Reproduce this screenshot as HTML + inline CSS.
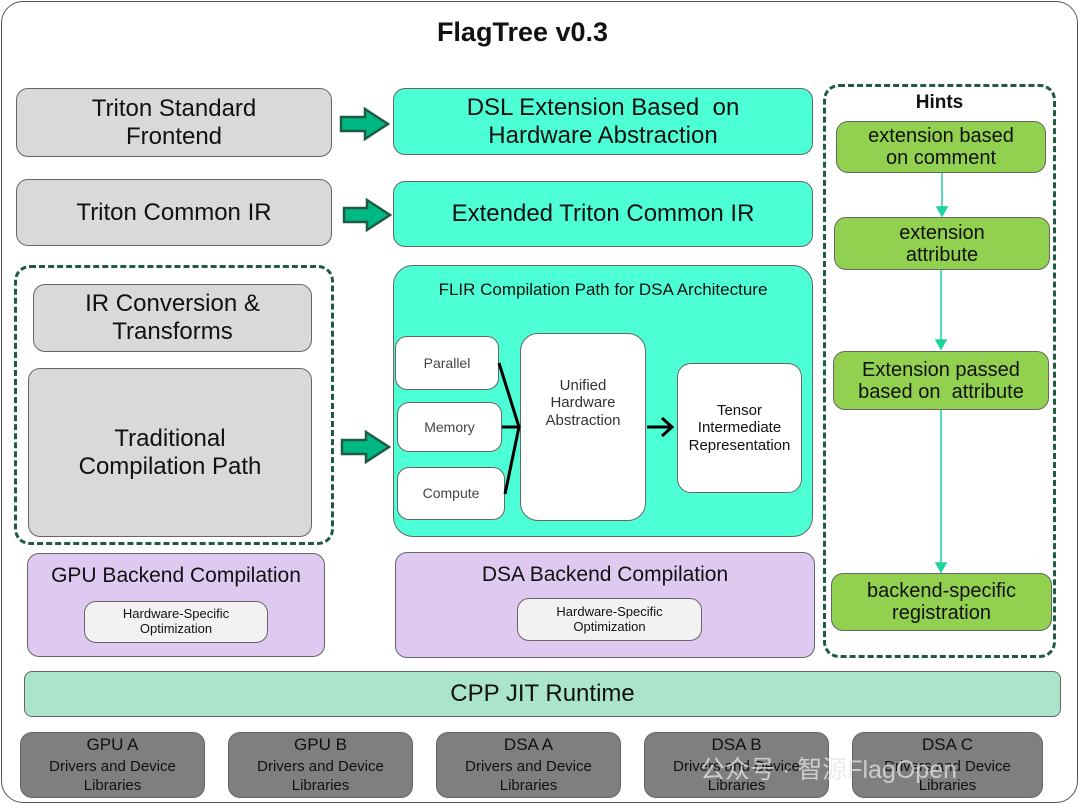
<!DOCTYPE html>
<html><head><meta charset="utf-8"><style>
body{margin:0;width:1080px;height:809px;background:#fff;position:relative;overflow:hidden;font-family:"Liberation Sans","DejaVu Sans",sans-serif;color:#111}
.b{position:absolute;box-sizing:border-box;border:1.3px solid #666;border-radius:12px;display:flex;align-items:center;justify-content:center;text-align:center;line-height:1.15}
.g{background:#d9d9d9}.t{background:#4dffd4}.p{background:#dfc9f0}.gr{background:#92d050}.w{background:#fff}.bt{background:#7f7f7f}.bo{background:#f2f2f2}
.d{position:absolute;box-sizing:border-box;border:3px dashed #1e5a44;border-radius:16px}
</style></head><body>
<div style="position:absolute;left:1px;top:1px;width:1077px;height:802px;border:1.3px solid #555;border-radius:22px;box-sizing:border-box"></div>
<div style="position:absolute;left:0;width:1045px;top:17px;text-align:center;font-weight:bold;font-size:27px">FlagTree v0.3</div>

<div class="b g" style="left:16px;top:88px;width:316px;height:69px;font-size:24px">Triton Standard<br>Frontend</div>
<div class="b g" style="left:16px;top:179px;width:316px;height:67px;font-size:24px">Triton Common IR</div>
<div class="d" style="left:14px;top:265px;width:320px;height:280px"></div>
<div class="b g" style="left:33px;top:284px;width:279px;height:68px;font-size:24px">IR Conversion &amp;<br>Transforms</div>
<div class="b g" style="left:28px;top:368px;width:284px;height:169px;font-size:24px">Traditional<br>Compilation Path</div>

<div class="b t" style="left:393px;top:88px;width:420px;height:67px;font-size:24px">DSL Extension Based &nbsp;on<br>Hardware Abstraction</div>
<div class="b t" style="left:393px;top:181px;width:420px;height:66px;font-size:24px">Extended Triton Common IR</div>
<div class="b t" style="left:393px;top:265px;width:420px;height:272px;border-radius:20px;align-items:flex-start;padding-top:14px;font-size:17px">FLIR Compilation Path for DSA Architecture</div>
<div class="b w" style="left:395px;top:336px;width:104px;height:54px;font-size:14px;color:#444">Parallel</div>
<div class="b w" style="left:397px;top:402px;width:105px;height:50px;font-size:14px;color:#444">Memory</div>
<div class="b w" style="left:397px;top:467px;width:108px;height:53px;font-size:14px;color:#444">Compute</div>
<div class="b w" style="left:520px;top:333px;width:126px;height:188px;font-size:15px;border-radius:18px;color:#333;padding-bottom:48px">Unified<br>Hardware<br>Abstraction</div>
<div class="b w" style="left:677px;top:363px;width:125px;height:130px;font-size:15px;border-radius:14px">Tensor<br>Intermediate<br>Representation</div>
<svg style="position:absolute;left:0;top:0" width="1080" height="809">
<g stroke="#000" stroke-width="3" fill="none">
<path d="M499 363 L519 427 L505 494"/><path d="M502 427 L519 427"/>
<path d="M647 427 L672 427 M662 418 L672 427 L662 436"/>
</g>
<g fill="#00b884" stroke="#1e5a44" stroke-width="2.5">
<path d="M341 117 H365 V109 L388 124 L365 139 V131 H341 Z"/>
<path d="M344 208 H367 V200 L390 215 L367 230 V222 H344 Z"/>
<path d="M342 440 H366 V432 L389 447 L366 462 V454 H342 Z"/>
</g>
<g stroke="#1dd3a0" stroke-width="1.5" fill="#1dd3a0">
<path d="M942 173 V211" fill="none"/><path d="M937 207 L942 216 L947 207Z"/>
<path d="M941 270 V345" fill="none"/><path d="M936 340 L941 349 L946 340Z"/>
<path d="M941 410 V567" fill="none"/><path d="M936 563 L941 572 L946 563Z"/>
</g>
</svg>

<div class="b p" style="left:27px;top:553px;width:298px;height:104px;align-items:flex-start;padding-top:10px;font-size:21px">GPU Backend Compilation</div>
<div class="b bo" style="left:84px;top:601px;width:184px;height:42px;font-size:13px;border-radius:12px">Hardware-Specific<br>Optimization</div>
<div class="b p" style="left:395px;top:552px;width:420px;height:106px;align-items:flex-start;padding-top:10px;font-size:21px">DSA Backend Compilation</div>
<div class="b bo" style="left:517px;top:598px;width:185px;height:43px;font-size:13px;border-radius:12px">Hardware-Specific<br>Optimization</div>

<div class="d" style="left:823px;top:84px;width:233px;height:574px"></div>
<div style="position:absolute;left:823px;width:233px;top:92px;text-align:center;font-weight:bold;font-size:19px">Hints</div>
<div class="b gr" style="left:836px;top:121px;width:210px;height:52px;font-size:20px;line-height:1.1">extension based<br>on comment</div>
<div class="b gr" style="left:834px;top:217px;width:216px;height:53px;font-size:20px;line-height:1.1">extension<br>attribute</div>
<div class="b gr" style="left:833px;top:351px;width:216px;height:59px;font-size:20px;line-height:1.1">Extension passed<br>based on &nbsp;attribute</div>
<div class="b gr" style="left:831px;top:573px;width:221px;height:58px;font-size:20px;line-height:1.1">backend-specific<br>registration</div>

<div class="b" style="left:24px;top:671px;width:1037px;height:46px;background:#a9e4cb;border-radius:8px;font-size:24px">CPP JIT Runtime</div>

<div class="b bt" style="left:20px;top:732px;width:185px;height:66px;font-size:15px;line-height:1.3"><div><span style="font-size:17px">GPU A</span><br>Drivers and Device<br>Libraries</div></div>
<div class="b bt" style="left:228px;top:732px;width:185px;height:66px;font-size:15px;line-height:1.3"><div><span style="font-size:17px">GPU B</span><br>Drivers and Device<br>Libraries</div></div>
<div class="b bt" style="left:436px;top:732px;width:185px;height:66px;font-size:15px;line-height:1.3"><div><span style="font-size:17px">DSA A</span><br>Drivers and Device<br>Libraries</div></div>
<div class="b bt" style="left:644px;top:732px;width:185px;height:66px;font-size:15px;line-height:1.3"><div><span style="font-size:17px">DSA B</span><br>Drivers and Device<br>Libraries</div></div>
<div class="b bt" style="left:852px;top:732px;width:191px;height:66px;font-size:15px;line-height:1.3"><div><span style="font-size:17px">DSA C</span><br>Drivers and Device<br>Libraries</div></div>
<div style="position:absolute;left:700px;top:750px;font-size:25px;color:rgba(230,230,230,0.75);font-family:'Liberation Sans','Noto Sans CJK SC',sans-serif">公众号 · 智源FlagOpen</div>
</body></html>
